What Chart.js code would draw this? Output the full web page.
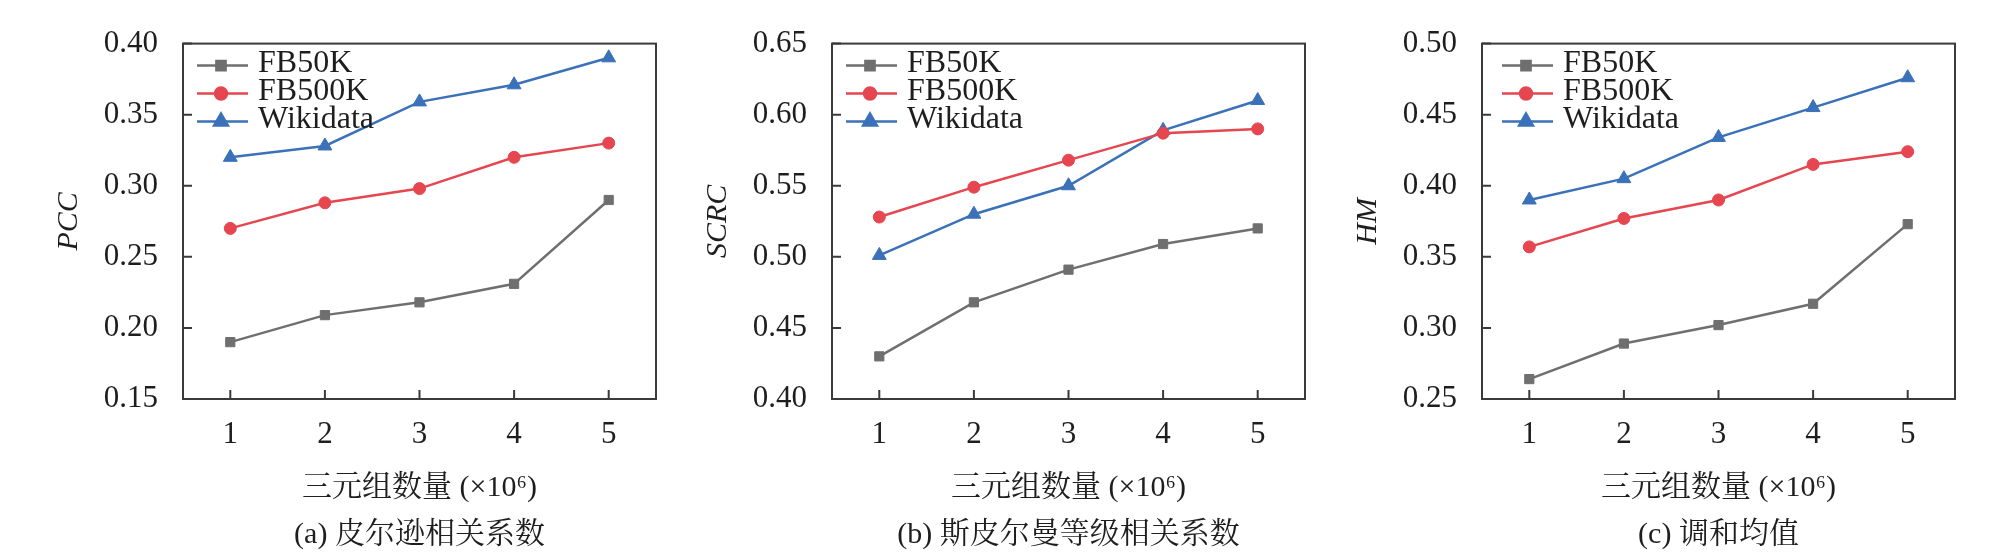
<!DOCTYPE html>
<html>
<head>
<meta charset="utf-8">
<script src="https://cdn.jsdelivr.net/npm/chart.js@4.4.1/dist/chart.umd.min.js"></script>
<style>
  body { margin: 0; background: #fff; }
  #wrap { position: relative; width: 2008px; height: 559px; background: #fff; overflow: hidden; }
  .panel { position: absolute; top: 0; width: 670px; height: 559px; }
</style>
</head>
<body>
<div id="wrap">
  <div class="panel" style="left:0px"><canvas id="chartA"></canvas></div>
  <div class="panel" style="left:649px"><canvas id="chartB"></canvas></div>
  <div class="panel" style="left:1299px"><canvas id="chartC"></canvas></div>
</div>
<script>
// datos
const categories = ['1', '2', '3', '4', '5'];
const seriesNames = ['FB50K', 'FB500K', 'Wikidata'];

const pccFB50K = [0.190, 0.209, 0.218, 0.231, 0.290];
const pccFB500K = [0.270, 0.288, 0.298, 0.320, 0.330];
const pccWikidata = [0.320, 0.328, 0.359, 0.371, 0.390];

const scrcFB50K = [0.430, 0.468, 0.491, 0.509, 0.520];
const scrcFB500K = [0.528, 0.549, 0.568, 0.587, 0.590];
const scrcWikidata = [0.501, 0.530, 0.550, 0.589, 0.610];

const hmFB50K = [0.264, 0.289, 0.302, 0.317, 0.373];
const hmFB500K = [0.357, 0.377, 0.390, 0.415, 0.424];
const hmWikidata = [0.390, 0.405, 0.434, 0.455, 0.476];

const xTitle = '三元组数量 (×10⁶)';
const captions = ['(a) 皮尔逊相关系数', '(b) 斯皮尔曼等级相关系数', '(c) 调和均值'];
const yTitles = ['PCC', 'SCRC', 'HM'];
const yRanges = [[0.15, 0.40], [0.40, 0.65], [0.25, 0.50]];

const FONT = '"Liberation Serif", "Times New Roman", "Noto Serif CJK SC", "Noto Sans CJK SC", serif';
const TEXT = '#1e1e1e';
const FRAME = '#3a3a3a';

const styles = [
  { color: '#6f6f6f', pointStyle: 'rect', radius: 6.5 },
  { color: '#e5464f', pointStyle: 'circle', radius: 6 },
  { color: '#3a71b8', pointStyle: 'triangle', radius: 8 },
];

// marco y marcas hacia dentro
const framePlugin = {
  id: 'framePlugin',
  afterDatasetsDraw(chart) {
    const { ctx, chartArea } = chart;
    const { left, top, right, bottom } = chartArea;
    ctx.save();
    ctx.strokeStyle = FRAME;
    ctx.lineWidth = 2;
    ctx.strokeRect(left, top, right - left, bottom - top);
    ctx.beginPath();
    chart.scales.y.ticks.forEach((t) => {
      const py = chart.scales.y.getPixelForValue(t.value);
      ctx.moveTo(left, py);
      ctx.lineTo(left + 9, py);
    });
    chart.scales.x.ticks.forEach((t, i) => {
      const px = chart.scales.x.getPixelForValue(i);
      ctx.moveTo(px, bottom);
      ctx.lineTo(px, bottom - 9);
    });
    ctx.stroke();
    ctx.restore();
  },
};

// leyenda dentro del área del gráfico
const legendInside = {
  id: 'legendInside',
  afterDraw(chart) {
    const { ctx, chartArea } = chart;
    const shift = chart.options.plugins.legendInside.shift || 0;
    ctx.save();
    chart.data.datasets.forEach((ds, i) => {
      const y = chartArea.top + 22 + i * 28;
      const x0 = chartArea.left + 14 + shift;
      ctx.strokeStyle = ds.borderColor;
      ctx.lineWidth = ds.borderWidth;
      ctx.beginPath();
      ctx.moveTo(x0, y);
      ctx.lineTo(x0 + 51, y);
      ctx.stroke();
      ctx.fillStyle = ds.pointBackgroundColor;
      ctx.strokeStyle = ds.pointBorderColor;
      Chart.helpers.drawPoint(ctx, {
        pointStyle: ds.pointStyle,
        radius: ds.pointRadius,
        borderWidth: 1,
        rotation: 0,
      }, x0 + 24, y);
      ctx.fillStyle = TEXT;
      ctx.font = '32px ' + FONT;
      ctx.textBaseline = 'middle';
      ctx.textAlign = 'left';
      ctx.fillText(ds.label, x0 + 61, y - 2);
    });
    ctx.restore();
  },
};

function makePanel(canvasId, idx, seriesValues, legendShift) {
  const ctx = document.getElementById(canvasId).getContext('2d');
  const datasets = seriesValues.map((values, i) => ({
    label: seriesNames[i],
    data: values,
    borderColor: styles[i].color,
    backgroundColor: styles[i].color,
    pointBackgroundColor: styles[i].color,
    pointBorderColor: styles[i].color,
    pointBorderWidth: 1,
    pointStyle: styles[i].pointStyle,
    pointRadius: styles[i].radius,
    pointHoverRadius: styles[i].radius,
    borderWidth: 2.5,
    tension: 0,
    clip: false,
  }));

  return new Chart(ctx, {
    type: 'line',
    data: { labels: categories, datasets },
    plugins: [framePlugin, legendInside],
    options: {
      responsive: true,
      maintainAspectRatio: false,
      animation: false,
      layout: { padding: { top: 19, right: 14, left: 0, bottom: 0 } },
      plugins: {
        legend: { display: false },
        tooltip: { enabled: false },
        legendInside: { shift: legendShift },
      },
      scales: {
        x: {
          type: 'category',
          offset: true,
          grid: { display: false, drawTicks: false },
          border: { display: false },
          ticks: { color: TEXT, padding: 17, font: { family: FONT, size: 31 } },
          title: {
            display: true,
            text: [xTitle, captions[idx]],
            color: TEXT,
            padding: { top: 0, bottom: 0 },
            font: { family: FONT, size: 30, lineHeight: 47 / 30 },
          },
          afterFit(scale) { scale.height = 160; },
        },
        y: {
          min: yRanges[idx][0],
          max: yRanges[idx][1],
          grid: { display: false, drawTicks: false },
          border: { display: false },
          ticks: {
            stepSize: 0.05,
            color: TEXT,
            padding: 25,
            font: { family: FONT, size: 31 },
            callback: (v) => Number(v).toFixed(2),
          },
          title: {
            display: true,
            text: yTitles[idx],
            color: TEXT,
            padding: { top: 51, bottom: 0 },
            font: { family: FONT, size: 30, style: 'italic', lineHeight: 1.2 },
          },
          afterFit(scale) { scale.width = 183; },
        },
      },
    },
  });
}

makePanel('chartA', 0, [pccFB50K, pccFB500K, pccWikidata], 0);
makePanel('chartB', 1, [scrcFB50K, scrcFB500K, scrcWikidata], 0);
makePanel('chartC', 2, [hmFB50K, hmFB500K, hmWikidata], 6);
</script>
</body>
</html>
